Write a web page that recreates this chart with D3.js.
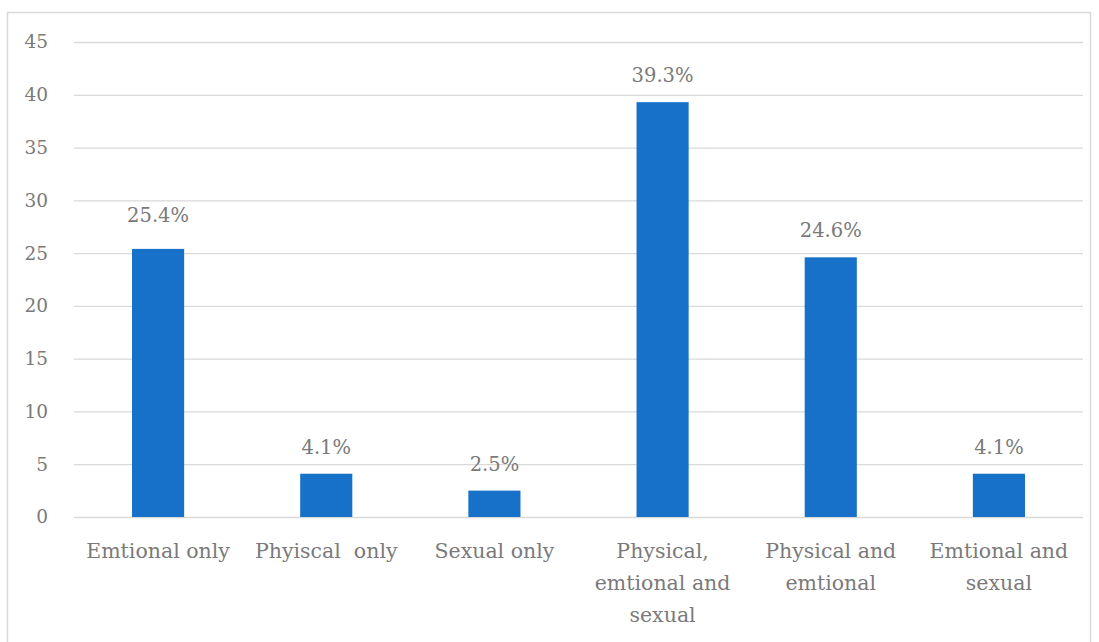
<!DOCTYPE html>
<html><head><meta charset="utf-8">
<script src="https://cdn.jsdelivr.net/npm/d3@7"></script>
<style>body{margin:0;background:#fff}</style>
</head><body>
<svg id="c" width="1099" height="642"></svg>
<script>
const categories = ["Emtional only", "Phyiscal  only", "Sexual only", "Physical, emtional and sexual", "Physical and emtional", "Emtional and sexual"];
const categoryLines = [["Emtional only"], ["Phyiscal  only"], ["Sexual only"], ["Physical,", "emtional and", "sexual"], ["Physical and", "emtional"], ["Emtional and", "sexual"]];
const values = [25.4, 4.1, 2.5, 39.3, 24.6, 4.1];
const valueLabels = ["25.4%", "4.1%", "2.5%", "39.3%", "24.6%", "4.1%"];
const yTicks = [0, 5, 10, 15, 20, 25, 30, 35, 40, 45];

const svg = d3.select("#c");
const font = "'DejaVu Serif', serif";
const textColor = "#7a7a7a";
svg.append("rect").attr("x", 7.5).attr("y", 12.5).attr("width", 1083).attr("height", 640)
  .attr("fill", "none").attr("stroke", "#d9d9d9").attr("stroke-width", 1.5);

const x = d3.scaleBand().domain(categories).range([74, 1083]).paddingInner(0.69).paddingOuter(0.345);
const y = d3.scaleLinear().domain([0, 45]).range([517, 42]);

const yAxis = svg.append("g").attr("transform", "translate(74,0)")
  .call(d3.axisLeft(y).tickValues(yTicks).tickSize(-1009).tickPadding(26));
yAxis.select(".domain").remove();
yAxis.selectAll("line").attr("stroke", "#d9d9d9").attr("stroke-width", 1.3);
yAxis.selectAll("text").attr("font-family", font).attr("font-size", 18.5).attr("fill", textColor);

svg.selectAll(".bar").data(values).enter().append("rect")
  .attr("x", (d, i) => x(categories[i])).attr("width", x.bandwidth())
  .attr("y", d => y(d)).attr("height", d => y(0) - y(d)).attr("fill", "#1771c9");

// the first data label sits a little higher in the original
svg.selectAll(".vl").data(values).enter().append("text")
  .attr("x", (d, i) => x(categories[i]) + x.bandwidth() / 2).attr("y", (d, i) => y(d) - (i === 0 ? 27 : 20))
  .attr("text-anchor", "middle").attr("font-family", font).attr("font-size", 19.5).attr("fill", textColor)
  .text((d, i) => valueLabels[i]);

const xl = svg.selectAll(".xl").data(categories).enter().append("text")
  .attr("text-anchor", "middle").attr("font-family", font).attr("font-size", 20.5).attr("fill", textColor);
xl.each(function(c, i) {
  const t = d3.select(this);
  categoryLines[i].forEach((ln, j) => {
    t.append("tspan").attr("x", x(c) + x.bandwidth() / 2).attr("y", 558 + j * 32).attr("xml:space", "preserve").text(ln);
  });
});
</script>
</body></html>
